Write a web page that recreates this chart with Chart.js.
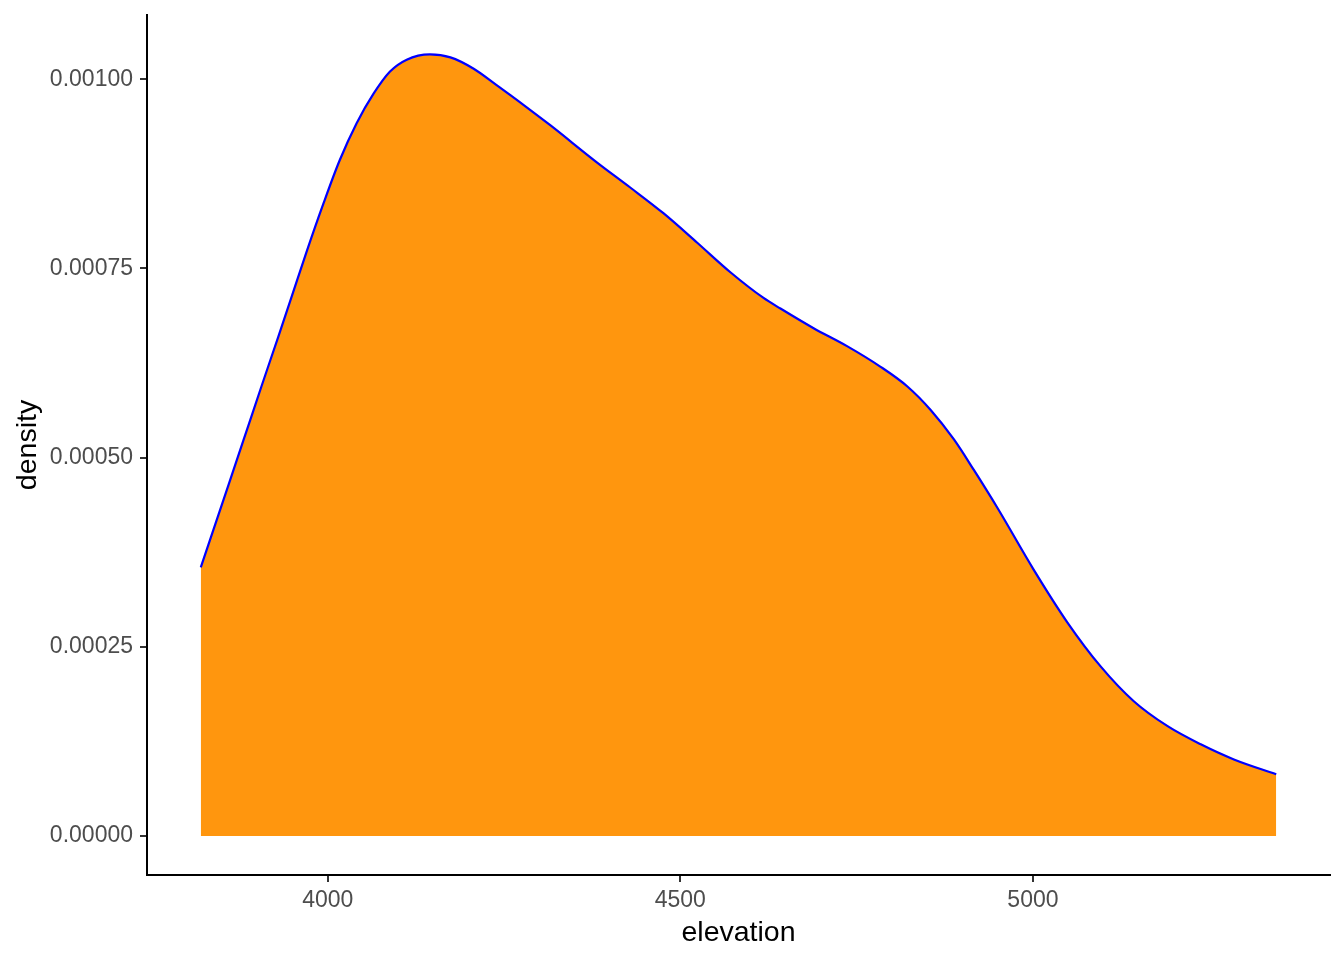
<!DOCTYPE html>
<html>
<head>
<meta charset="utf-8">
<script src="https://cdn.jsdelivr.net/npm/chart.js@4/dist/chart.umd.min.js"></script>
<style>
  html, body { margin: 0; padding: 0; background: #ffffff; }
  #wrap { width: 1344px; height: 960px; }
</style>
</head>
<body>
<div id="wrap"><canvas id="c" width="1344" height="960"></canvas></div>
<script>
// Elevation values (x)
const elevation = [3820, 3859, 3887, 3906, 3930, 3949, 3970, 3994, 4017, 4041,
                   4065, 4088, 4112, 4145, 4174, 4207, 4240, 4278, 4316, 4382,
                   4429, 4476, 4524, 4571, 4618, 4642, 4689, 4737, 4784, 4822,
                   4855, 4888, 4916, 4950, 5001, 5049, 5096, 5143, 5191, 5238,
                   5285, 5345];
// Density values (y)
const density = [0.000355, 0.000463, 0.000541, 0.000594, 0.000660, 0.000713, 0.000772, 0.000836, 0.000893, 0.000942,
                 0.000981, 0.001010, 0.001026, 0.001033, 0.001029, 0.001014, 0.000992, 0.000966, 0.000939, 0.000890,
                 0.000857, 0.000823, 0.000784, 0.000745, 0.000711, 0.000697, 0.000671, 0.000647, 0.000620, 0.000594,
                 0.000563, 0.000524, 0.000484, 0.000433, 0.000352, 0.000282, 0.000224, 0.000178, 0.000145, 0.000121,
                 0.000101, 0.0000814];
// Tick labels
const xTicks = [4000, 4500, 5000];
const yTicks = [0, 0.00025, 0.0005, 0.00075, 0.001];

const xMin = 3743.75, xMax = 5421.25;
const yMin = -0.0000517, yMax = 0.001085;

const points = elevation.map((x, i) => ({ x: x, y: density[i] }));

const tickFont = { family: "'Liberation Sans', Arial, Helvetica, sans-serif", size: 23 };
const titleFont = { family: "'Liberation Sans', Arial, Helvetica, sans-serif", size: 28.5 };

new Chart(document.getElementById('c'), {
  type: 'line',
  data: {
    datasets: [{
      data: points,
      borderColor: '#0000FF',
      borderWidth: 2.2,
      backgroundColor: '#FF960E',
      fill: 'origin',
      pointRadius: 0,
      cubicInterpolationMode: 'monotone'
    }]
  },
  options: {
    responsive: false,
    animation: false,
    layout: { padding: { top: 15, right: 14, left: 0, bottom: 0 } },
    plugins: { legend: { display: false }, tooltip: { enabled: false } },
    scales: {
      x: {
        type: 'linear',
        min: xMin, max: xMax,
        afterFit: s => { s.height = 85; s.paddingLeft = 0; s.paddingRight = 0; },
        afterBuildTicks: s => { s.ticks = xTicks.map(v => ({ value: v })); },
        ticks: { color: '#4D4D4D', font: tickFont, padding: 5, maxRotation: 0,
                 callback: v => String(v) },
        grid: { drawOnChartArea: false, drawTicks: true, tickLength: 7, color: '#333333', lineWidth: 2 },
        border: { display: true, color: '#000000', width: 2 },
        title: { display: true, text: 'elevation', color: '#000000', font: titleFont,
                 padding: { top: 0, bottom: 10 } }
      },
      y: {
        type: 'linear',
        min: yMin, max: yMax,
        afterFit: s => { s.width = 147; s.paddingTop = 0; s.paddingBottom = 0; },
        afterBuildTicks: s => { s.ticks = yTicks.map(v => ({ value: v })); },
        ticks: { color: '#4D4D4D', font: tickFont, padding: 7,
                 callback: v => Number(v).toFixed(5) },
        grid: { drawOnChartArea: false, drawTicks: true, tickLength: 7, color: '#333333', lineWidth: 2 },
        border: { display: true, color: '#000000', width: 2 },
        title: { display: true, text: 'density', color: '#000000', font: titleFont,
                 padding: { top: 11, bottom: 0 } }
      }
    }
  }
});
</script>
</body>
</html>
